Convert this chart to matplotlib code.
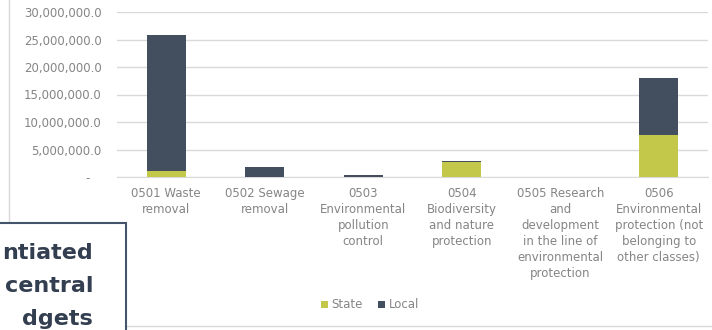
import matplotlib.pyplot as plt
from matplotlib.patches import Rectangle
from matplotlib.ticker import FuncFormatter

# data
categories = [
    "0501 Waste\nremoval",
    "0502 Sewage\nremoval",
    "0503\nEnvironmental\npollution\ncontrol",
    "0504\nBiodiversity\nand nature\nprotection",
    "0505 Research\nand\ndevelopment\nin the line of\nenvironmental\nprotection",
    "0506\nEnvironmental\nprotection (not\nbelonging to\nother classes)",
]
state = [1100000, 50000, 0, 2800000, 0, 7600000]
local = [24800000, 1750000, 300000, 100000, 0, 10400000]

state_color = "#C3C84B"
local_color = "#434F5F"
text_gray = "#858585"
grid_gray = "#D9D9D9"

plt.rcParams['font.family'] = ['DejaVu Sans']

fig = plt.figure(figsize=(7.12, 3.30), dpi=100)
ax = fig.add_axes([117 / 712, 1 - 177 / 330, 591 / 712, 165 / 330])

x = range(len(categories))
ax.bar(x, state, width=0.4, color=state_color, label="State", zorder=3)
ax.bar(x, local, width=0.4, bottom=state, color=local_color, label="Local", zorder=3)

ax.set_xlim(-0.5, 5.5)
ax.set_ylim(0, 30000000)
ax.set_yticks(range(0, 30000001, 5000000))


def fmt(v, pos):
    if v == 0:
        return "-   "
    return f"{v:,.1f}"


ax.yaxis.set_major_formatter(FuncFormatter(fmt))
ax.grid(axis="y", color=grid_gray, linewidth=1, zorder=0)
ax.set_xticks(list(x))
ax.set_xticklabels(categories, fontsize=8.5, color=text_gray, linespacing=1.3)
ax.tick_params(axis="y", labelsize=8.5, labelcolor=text_gray, length=0, pad=11)
ax.tick_params(axis="x", length=0, pad=7)
for s in ["top", "right", "left"]:
    ax.spines[s].set_visible(False)
ax.spines["bottom"].set_color(grid_gray)

leg = fig.legend(loc="center", bbox_to_anchor=(370 / 712, 1 - 305 / 330), ncol=2,
                 frameon=False, fontsize=8.5, handlelength=0.6, handleheight=0.6,
                 handletextpad=0.3, columnspacing=1.3)
for t in leg.get_texts():
    t.set_color(text_gray)

# chart area border
fig.patches.append(Rectangle((9 / 712, 4 / 330), 1.2, 1.2, transform=fig.transFigure,
                             fill=False, edgecolor=grid_gray, linewidth=1, zorder=0))

# overlapping text box from the slide
fig.patches.append(Rectangle((-10 / 712, -20 / 330), 136 / 712, (107 + 20) / 330,
                             transform=fig.transFigure, facecolor="white",
                             edgecolor="#44546A", linewidth=1.5, zorder=5))
box_lines = ["ntiated", "central", "dgets"]
for i, s in enumerate(box_lines):
    fig.text(93 / 712, 1 - (259 + i * 33) / 330, s, ha="right", va="baseline",
             fontsize=16, fontweight="bold", color="#333F50", zorder=6)

fig.savefig("out.png", dpi=100)
